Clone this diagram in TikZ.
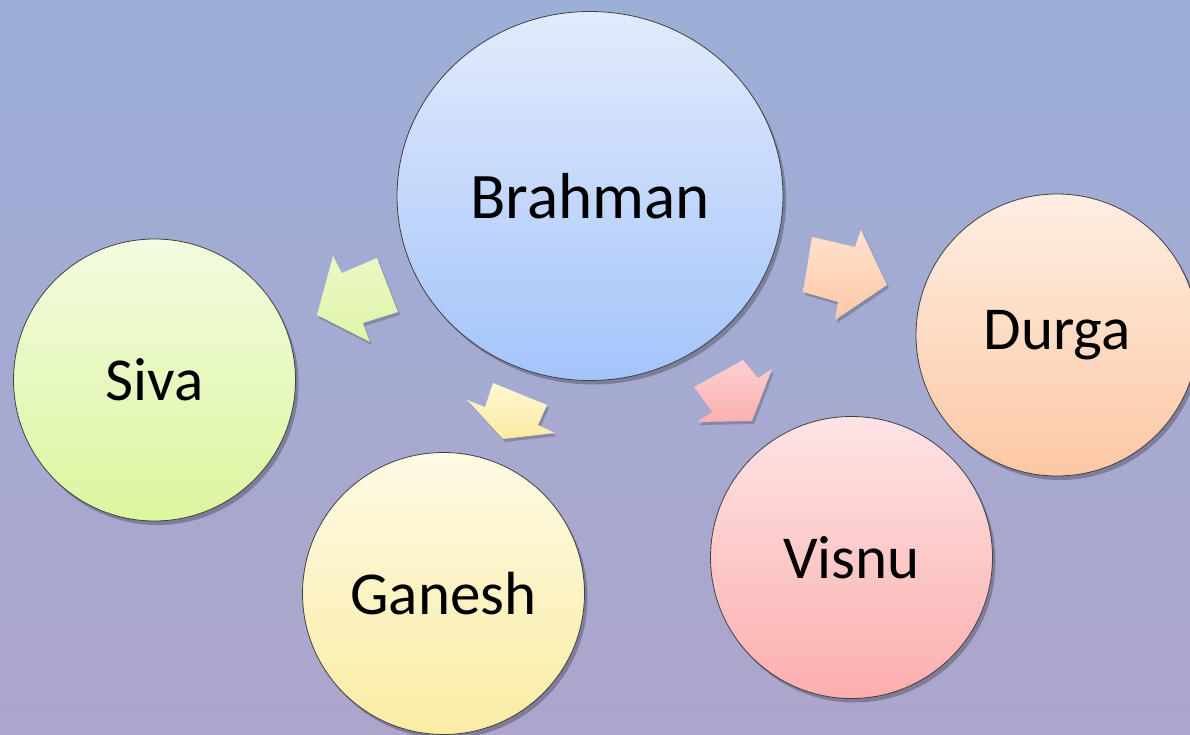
\documentclass[tikz,border=0pt]{standalone}
\usepackage{fontspec}
\setmainfont{Carlito}
\usetikzlibrary{shapes.geometric,shadows}
\definecolor{bgtop}{HTML}{9CAFD7}
\definecolor{bgbot}{HTML}{ADA5CB}
\tikzset{
  bubble/.style={circle, draw=black!75, line width=0.8pt, inner sep=0pt,
    minimum size=282pt, font=\fontsize{61}{72}\selectfont,
    drop shadow={shadow xshift=3pt, shadow yshift=-4pt, opacity=.25, fill=black}},
  blockarrow/.style={draw=none,
    drop shadow={shadow xshift=2pt, shadow yshift=-3pt, opacity=.2, fill=black}},
}
\begin{document}
\begin{tikzpicture}[x=1pt,y=-1pt]
\useasboundingbox (0,0) rectangle (1190,735);
\shade[top color=bgtop, bottom color=bgbot] (0,0) rectangle (1190,735);

% arrows
\path[blockarrow, top color={rgb,255:red,236;green,248;blue,196}, bottom color={rgb,255:red,222;green,244;blue,168}]
  (377,258) -- (342,273) -- (333,256) -- (317,315) -- (370,342) -- (363,323) -- (398,312) -- cycle;
\path[blockarrow, top color={rgb,255:red,254;green,248;blue,212}, bottom color={rgb,255:red,250;green,234;blue,160}]
  (493,383) -- (547,405) -- (538,425) -- (555,433) -- (503,439) -- (467,400) -- (485,407) -- cycle;
\path[blockarrow, top color={rgb,255:red,252;green,208;blue,208}, bottom color={rgb,255:red,252;green,176;blue,176}]
  (694,387) -- (743,360) -- (758,378) -- (772,369) -- (752,421) -- (697,422) -- (712,412) -- cycle;
\path[blockarrow, top color={rgb,255:red,254;green,226;blue,206}, bottom color={rgb,255:red,252;green,200;blue,166}]
  (812,237) -- (855,247) -- (861,230) -- (887,285) -- (835,320) -- (838,302) -- (803,292) -- cycle;

% circles
\node[bubble, ellipse, minimum width=386pt, minimum height=369pt,
  top color={rgb,255:red,226;green,235;blue,252}, bottom color={rgb,255:red,164;green,196;blue,250},
  font=\fontsize{65}{76}\selectfont] (brahman) at (590,196) {Brahman};
\node[bubble, top color={rgb,255:red,242;green,252;blue,224}, bottom color={rgb,255:red,220;green,245;blue,158}]
  (siva) at (154.5,380) {Siva};
\node[bubble, top color={rgb,255:red,254;green,250;blue,228}, bottom color={rgb,255:red,250;green,236;blue,164}]
  (ganesh) at (443.5,593.5) {Ganesh};
\node[bubble, top color={rgb,255:red,253;green,228;blue,228}, bottom color={rgb,255:red,252;green,174;blue,174}]
  (visnu) at (851.5,557.5) {Visnu};
\node[bubble, top color={rgb,255:red,254;green,238;blue,226}, bottom color={rgb,255:red,252;green,200;blue,164}]
  (durga) at (1057,335) {Durga};
\end{tikzpicture}
\end{document}
